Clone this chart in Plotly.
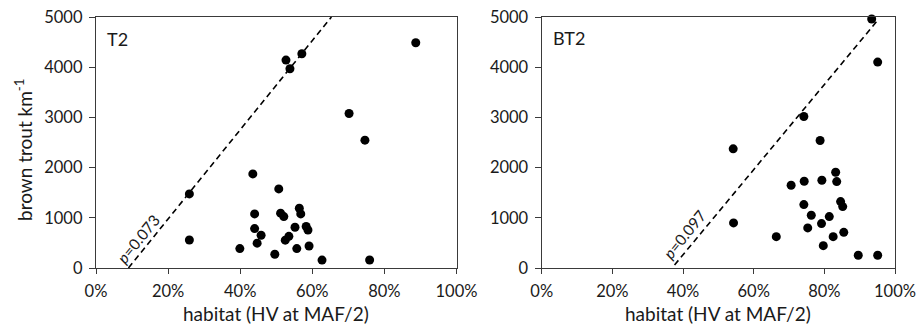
import plotly.graph_objects as go

# ---- data ----
t2_habitat = [0.259, 0.259, 0.435, 0.440, 0.440, 0.458, 0.447, 0.399, 0.496, 0.507,
              0.512, 0.521, 0.525, 0.535, 0.552, 0.557, 0.564, 0.568, 0.583, 0.588,
              0.591, 0.627, 0.527, 0.538, 0.571, 0.702, 0.746, 0.759, 0.887]
t2_trout = [1476, 558, 1875, 1077, 785, 652, 495, 386, 273, 1576,
            1092, 1024, 555, 630, 811, 386, 1190, 1077, 827, 758,
            439, 157, 4142, 3969, 4269, 3078, 2547, 160, 4488]

bt2_habitat = [0.934, 0.951, 0.742, 0.788, 0.542, 0.543, 0.664, 0.706, 0.743, 0.793,
               0.832, 0.835, 0.742, 0.763, 0.753, 0.792, 0.814, 0.797, 0.825, 0.846,
               0.852, 0.855, 0.896, 0.951]
bt2_trout = [4960, 4102, 3019, 2540, 2374, 898, 625, 1649, 1729, 1749,
             1908, 1722, 1263, 1051, 798, 884, 1024, 445, 625, 1323,
             1223, 711, 253, 253]

# dashed boundary lines (endpoints)
t2_line_x = [0.090, 0.653]
t2_line_y = [0, 5000]
bt2_line_x = [0.376, 0.948]
bt2_line_y = [60, 4910]

x_ticks = [0, 0.2, 0.4, 0.6, 0.8, 1.0]
x_ticklabels = ["0%", "20%", "40%", "60%", "80%", "100%"]
y_ticks = [0, 1000, 2000, 3000, 4000, 5000]

panel_labels = ["T2", "BT2"]
p_labels = ["<i>p</i>=0.073", "<i>p</i>=0.097"]
x_title = "habitat (HV at MAF/2)"
y_title = "brown trout km<sup>-1</sup>"

FONT = "Lato"
W, H = 919, 325
AX = "#3a3a3a"
TXT = "#1a1a1a"

def fx(px):
    return px / W

def fy(py):
    return 1 - py / H

fig = go.Figure()
fig.add_trace(go.Scatter(x=t2_habitat, y=t2_trout, mode="markers",
                         marker=dict(color="black", size=9), xaxis="x", yaxis="y",
                         cliponaxis=False, showlegend=False))
fig.add_trace(go.Scatter(x=t2_line_x, y=t2_line_y, mode="lines",
                         line=dict(color="black", width=1.6, dash="6px,4px"),
                         xaxis="x", yaxis="y", showlegend=False))
fig.add_trace(go.Scatter(x=bt2_habitat, y=bt2_trout, mode="markers",
                         marker=dict(color="black", size=9), xaxis="x2", yaxis="y2",
                         cliponaxis=False, showlegend=False))
fig.add_trace(go.Scatter(x=bt2_line_x, y=bt2_line_y, mode="lines",
                         line=dict(color="black", width=1.6, dash="6px,4px"),
                         xaxis="x2", yaxis="y2", showlegend=False))

yd = [fy(268), fy(17)]
xd1 = [fx(96), fx(456.5)]
xd2 = [fx(541.7), fx(895)]

def xaxis(dom, anchor):
    return dict(domain=dom, anchor=anchor, range=[0, 1], tickvals=x_ticks,
                ticktext=x_ticklabels, showline=True, linecolor=AX, linewidth=1.4,
                mirror=True, ticks="outside", ticklen=5, tickcolor=AX, tickwidth=1.2,
                ticklabelstandoff=3, showgrid=False, zeroline=False,
                automargin=False, ticklabeloverflow="allow",
                tickfont=dict(family=FONT, size=16.5, color=TXT))

def yaxis(anchor):
    return dict(domain=yd, anchor=anchor, range=[0, 5000], tickvals=y_ticks,
                showline=True, linecolor=AX, linewidth=1.4, mirror=True,
                ticks="outside", ticklen=6, tickcolor=AX, tickwidth=1.2,
                ticklabelstandoff=3, showgrid=False, zeroline=False,
                automargin=False, ticklabeloverflow="allow",
                tickfont=dict(family=FONT, size=16.5, color=TXT))

def ann(text, x, y, size, angle=0, xref="paper", yref="paper"):
    return dict(text=text, x=x, y=y, xref=xref, yref=yref, showarrow=False,
                xanchor="center", yanchor="middle", textangle=angle,
                font=dict(family=FONT, size=size, color=TXT))

annotations = [
    ann(panel_labels[0], fx(117), fy(39), 18),
    ann(panel_labels[1], fx(569), fy(38), 18),
    ann(p_labels[0], 0.117, 578, 15.5, -51, "x", "y"),
    ann(p_labels[1], 0.405, 677, 15.5, -51, "x2", "y2"),
    ann(x_title, fx(276), fy(313), 19),
    ann(x_title, fx(718), fy(313), 19),
    ann(y_title, fx(23), fy(150), 19, -90),
]

fig.update_layout(
    width=W, height=H, margin=dict(l=0, r=0, t=0, b=0),
    paper_bgcolor="white", plot_bgcolor="white",
    xaxis=xaxis(xd1, "y"), yaxis=yaxis("x"),
    xaxis2=xaxis(xd2, "y2"), yaxis2=yaxis("x2"),
    annotations=annotations, showlegend=False,
)
fig.write_html("out.html")
